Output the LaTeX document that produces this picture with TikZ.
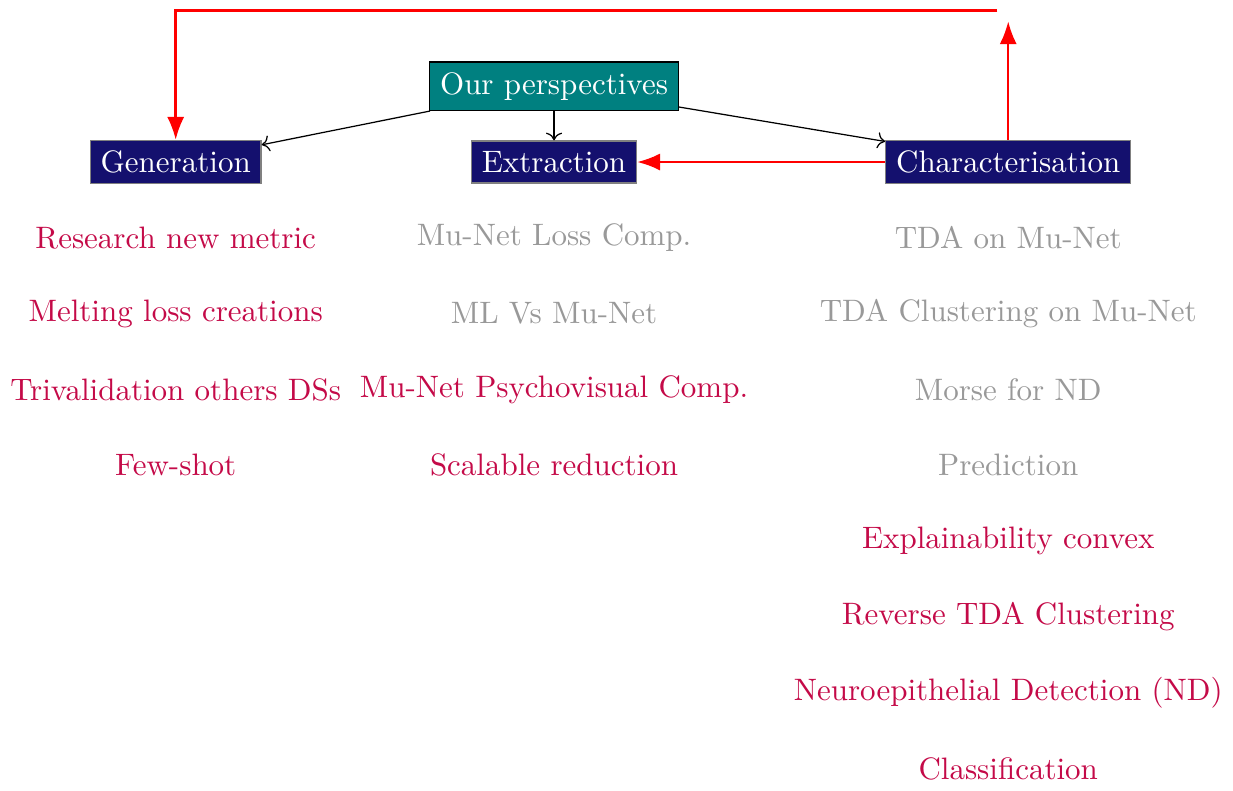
\documentclass[tikz,border=0pt]{standalone}
\usetikzlibrary{arrows.meta, positioning}

\definecolor{boxblue}{RGB}{20,16,110}
\definecolor{todo}{RGB}{196,10,72}

\begin{document}
\begin{tikzpicture}[
    node distance=0.86cm, on grid,
    mainbox/.style={rectangle, draw=black, fill=teal, text=white},
    topicbox/.style={rectangle, draw=gray, fill=boxblue, text=white},
    todoitem/.style={text=todo},
    doneitem/.style={text=black!40},
    link/.style={->},
    loop/.style={thick, red, -{Latex[length=2.6mm]}}
]

% Nodes
\node (persp) [mainbox] {Our perspectives};
\node (extract) [topicbox, below=of persp] {Extraction};
\node (gen) [topicbox, left=4.29cm of extract] {Generation};
\node (charac) [topicbox, right=5.15cm of extract] {Characterisation};
\node (back) [above=1.72cm of charac] {};

% Generation
\node (g1) [todoitem, below=of gen] {Research new metric};
\node (g2) [todoitem, below=of g1] {Melting loss creations};
\node (g3) [todoitem, below=of g2] {Trivalidation others DSs};
\node (g4) [todoitem, below=of g3] {Few-shot};

% Extraction
\node (e1) [doneitem, below=of extract] {Mu-Net Loss Comp.};
\node (e2) [doneitem, below=of e1] {ML Vs Mu-Net};
\node (e3) [todoitem, below=of e2] {Mu-Net Psychovisual Comp.};
\node (e4) [todoitem, below=of e3] {Scalable reduction};

% Characterisation
\node (c1) [doneitem, below=of charac] {TDA on Mu-Net};
\node (c2) [doneitem, below=of c1] {TDA Clustering on Mu-Net};
\node (c3) [doneitem, below=of c2] {Morse for ND};
\node (c4) [doneitem, below=of c3] {Prediction};
\node (c5) [todoitem, below=of c4] {Explainability convex};
\node (c6) [todoitem, below=of c5] {Reverse TDA Clustering};
\node (c7) [todoitem, below=of c6] {Neuroepithelial Detection (ND)};
\node (c8) [todoitem, below=of c7] {Classification};

% Arrows
\draw [link] (persp) -- (gen);
\draw [link] (persp) -- (extract);
\draw [link] (persp) -- (charac);
\draw [loop] (charac) -- (extract);
\draw [loop] (charac) -- (back);
\draw [loop] (back) -| (gen);

\end{tikzpicture}
\end{document}
